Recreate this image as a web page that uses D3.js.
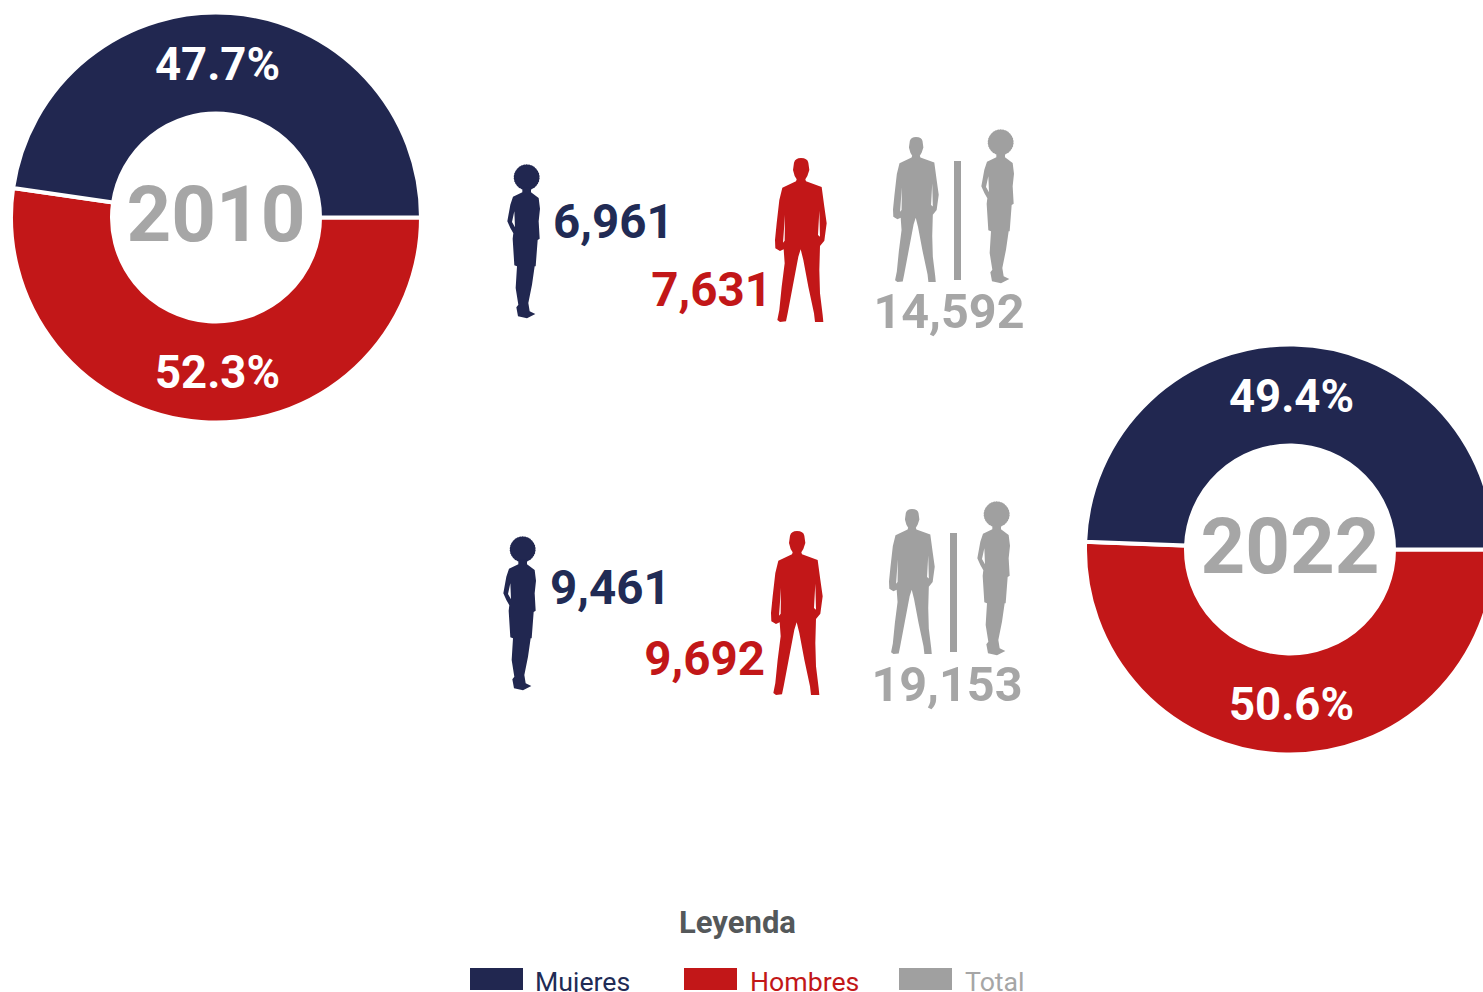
<!DOCTYPE html>
<html><head><meta charset="utf-8">
<script src="https://cdnjs.cloudflare.com/ajax/libs/d3/7.8.5/d3.min.js"></script>
<style>html,body{margin:0;padding:0;background:#fff;overflow:hidden}svg{display:block}text{font-family:Roboto,sans-serif}</style>
</head><body><svg id="c" width="1483" height="992"></svg>
<script>
const years=["2010","2022"];
const mujeresPct=[47.7,49.4];
const hombresPct=[52.3,50.6];
const mujeres=[6961,9461];
const hombres=[7631,9692];
const totales=[14592,19153];
const legendLabels=["Mujeres","Hombres","Total"];
const NAVY="#212750",RED="#c21718",GREY="#a0a0a0";
// silhouette glyphs, in the coordinates of a 3x crop
const hairR=38,hairC=[109,168],hairN=30;
const HAIR=d3.range(hairN).map(k=>{
  const a=k/hairN*2*Math.PI;
  const p=[hairC[0]+hairR*Math.cos(a),hairC[1]+hairR*Math.sin(a)].map(v=>v.toFixed(1));
  return (k?"A7,7 0 0 1 ":"M")+p.join(",");
}).join(" ")+" A7,7 0 0 1 "+(hairC[0]+hairR)+","+hairC[1]+" Z";
const WOMAN="M96,198 L96,213 L68,226 L60,250 L51,300 L60,320 L69,336 L67,352 L72,432 L80,435 L76,500 L84,550 L78,558 L83,585 L110,591 L135,578 L118,570 L114,545 L125,490 L133,435 L136,435 L142,356 L148,352 L145,300 L149,262 L145,230 L122,213 L122,198 Z M72,270 L65,302 L74,318 Z";
const MAN="M912,128 Q916,114 933,114 Q952,114 955,128 L958,150 L952,168 L946,178 L948,184 L995,201 L1003,260 L1010,310 L1003,362 L990,378 L988,450 L990,520 L998,585 L1000,606 L975,606 L972,580 L955,500 L940,420 L932,388 L925,410 L908,500 L893,580 L888,604 L870,606 L862,600 L868,570 L875,500 L884,430 L881,388 L870,393 L856,385 L855,360 L860,310 L868,240 L877,203 L918,184 L920,178 L914,168 L909,150 Z M885,285 L879,368 L884,362 Z M988,272 L990,350 L984,345 Z";
const svg=d3.select("#c");
const layout=[
 {cx:216,cy:217,wx:507,wy:164,mx:775,my:157,gmx:893,gmy:136,gwx:981,gwy:129,bx:954,by:161,tw:[553,238],tm:[772,306],tt:[949,328]},
 {cx:1290,cy:549,wx:503,wy:536,mx:771,my:530,gmx:889,gmy:508,gwx:977,gwy:501,bx:950,by:533,tw:[550,604],tm:[765,675],tt:[947,701]}
];
const pie=d3.pie().sort(null).value(d=>d.v).startAngle(Math.PI/2).endAngle(Math.PI*2.5);
const arc=d3.arc().innerRadius(104).outerRadius(205);
function person(path,x,y,ox,oy,k,fill){
  svg.append("path").attr("d",path).attr("fill",fill).attr("fill-rule","evenodd")
    .attr("transform",`translate(${x},${y}) scale(${k/3}) translate(${-ox},${-oy})`);
}
function txt(s,x,y,size,fill,anchor,weight){
  return svg.append("text").attr("x",x).attr("y",y).attr("font-size",size).attr("fill",fill)
    .attr("text-anchor",anchor||"middle").attr("font-weight",weight||700).text(s);
}
function woman(x,y,fill){
  person(HAIR,x,y,50,128,1,fill);
  person(WOMAN,x,y,50,128,1,fill);
}
const fmt=d3.format(",");
years.forEach((yr,i)=>{
  const L=layout[i];
  const g=svg.append("g").attr("transform",`translate(${L.cx},${L.cy+0.5})`);
  g.selectAll("path").data(pie([{v:hombresPct[i],c:RED},{v:mujeresPct[i],c:NAVY}])).join("path")
    .attr("d",arc).attr("fill",d=>d.data.c).attr("stroke","#fff").attr("stroke-width",4);
  txt(yr,L.cx,L.cy+24,78,"#a6a6a6");
  txt(mujeresPct[i].toFixed(1)+"%",L.cx+1.5,L.cy-137,45.5,"#fff");
  txt(hombresPct[i].toFixed(1)+"%",L.cx+1.5,L.cy+171,45.5,"#fff");
  woman(L.wx,L.wy,NAVY);
  person(MAN,L.mx,L.my,855,111,1,RED);
  person(MAN,L.gmx,L.gmy,855,111,0.885,GREY);
  woman(L.gwx,L.gwy,GREY);
  svg.append("rect").attr("x",L.bx).attr("y",L.by).attr("width",7).attr("height",119).attr("fill",GREY);
  txt(fmt(mujeres[i]),L.tw[0],L.tw[1],47.5,"#212b55","start");
  txt(fmt(hombres[i]),L.tm[0],L.tm[1],47.5,RED,"end");
  txt(fmt(totales[i]),L.tt[0],L.tt[1],48.5,"#a6a6a6");
});
txt("Leyenda",737.5,933,31,"#54585a");
const lx=[470,684,899],lc=[NAVY,RED,GREY],ltx=[535,750,965],ltc=["#212b55",RED,"#a6a6a6"];
legendLabels.forEach((s,i)=>{
  svg.append("rect").attr("x",lx[i]).attr("y",968).attr("width",53).attr("height",22).attr("fill",lc[i]);
  txt(s,ltx[i],991,26.7,ltc[i],"start",400);
});
</script></body></html>
